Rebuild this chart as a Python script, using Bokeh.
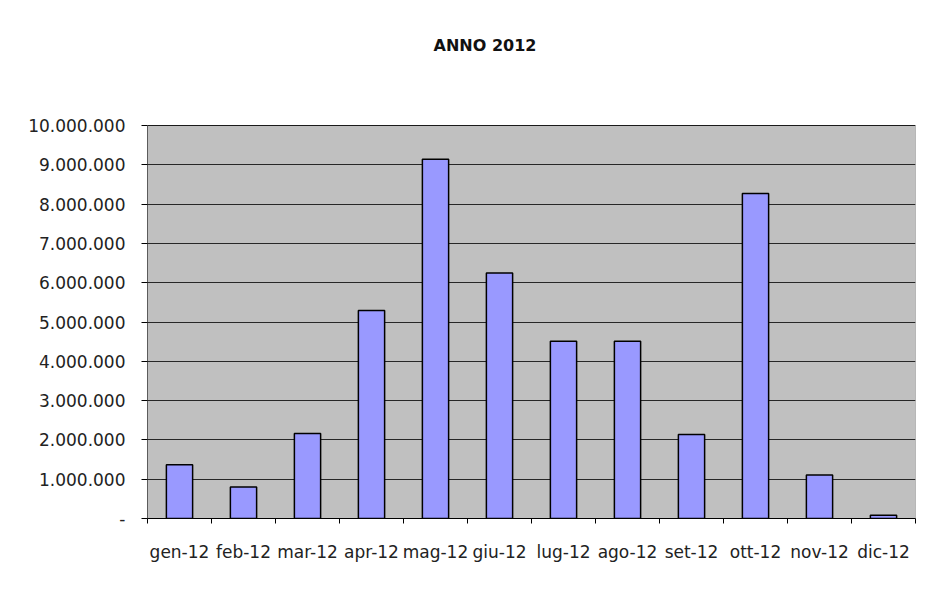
from bokeh.plotting import figure
from bokeh.models import FixedTicker, ColumnDataSource
from bokeh.core.properties import value
from bokeh.embed import file_html
from bokeh.resources import INLINE

# ---- data ----
months = ["gen-12", "feb-12", "mar-12", "apr-12", "mag-12", "giu-12",
          "lug-12", "ago-12", "set-12", "ott-12", "nov-12", "dic-12"]
values = [1370000, 800000, 2160000, 5290000, 9140000, 6250000,
          4510000, 4510000, 2140000, 8270000, 1110000, 85000]
y_ticks = [0, 1000000, 2000000, 3000000, 4000000, 5000000,
           6000000, 7000000, 8000000, 9000000, 10000000]
y_tick_labels = ["-", "1.000.000", "2.000.000", "3.000.000", "4.000.000",
                 "5.000.000", "6.000.000", "7.000.000", "8.000.000",
                 "9.000.000", "10.000.000"]
title_text = "ANNO 2012"

n = len(months)
y_max = y_ticks[-1]
x_centers = [i + 0.5 for i in range(n)]
x_bounds = [i for i in range(n + 1)]
src = ColumnDataSource(dict(x=x_centers, value=values, month=months))

FONT = "DejaVu Sans"

# layout: frame spans from y=25 to y=518 px; the value axis 0..10M occupies 393 px
FRAME_TOP, FRAME_BOTTOM, AREA_TOP = 25, 518, 125
y_top = y_max * (FRAME_BOTTOM - FRAME_TOP) / (FRAME_BOTTOM - AREA_TOP)

p = figure(width=938, height=600, output_backend="svg", toolbar_location=None,
           x_range=(0, n), y_range=(0, y_top),
           min_border_left=147, min_border_right=23,
           min_border_top=FRAME_TOP, min_border_bottom=600 - FRAME_BOTTOM,
           background_fill_color="white", border_fill_color="white")
p.outline_line_color = None

# plot area (grey) with grey border
p.quad(left=[0], right=[n], bottom=[0], top=[y_max],
       fill_color="#C0C0C0", line_color="#808080", line_width=1, level="image")

# left value-axis line only over the plot area
p.segment(x0=[0], y0=[0], x1=[0], y1=[y_max], line_color="black", line_width=1)

p.vbar(x="x", top="value", width=0.41, source=src,
       fill_color="#9999FF", line_color="black", line_width=1.5)

# chart title
title_y = y_max * (FRAME_BOTTOM - 45) / (FRAME_BOTTOM - AREA_TOP)
title_x = n * (484.5 - 147) / 768
p.text(x=[title_x], y=[title_y], text=[title_text], text_font=value(FONT),
       text_font_size="16px", text_font_style="bold", text_color="#111111",
       text_align="center", text_baseline="middle")

# grids
p.xgrid.grid_line_color = None
p.ygrid.ticker = FixedTicker(ticks=y_ticks)
p.ygrid.grid_line_color = "black"
p.ygrid.grid_line_alpha = 0.8
p.ygrid.grid_line_width = 1

# y axis
p.yaxis.ticker = FixedTicker(ticks=y_ticks)
p.yaxis.major_label_overrides = {t: l for t, l in zip(y_ticks, y_tick_labels)}
p.yaxis.axis_line_color = None
p.yaxis.major_tick_line_color = "black"
p.yaxis.major_tick_out = 6
p.yaxis.major_tick_in = 0
p.yaxis.minor_tick_line_color = None
p.yaxis.major_label_standoff = 16
p.yaxis.major_label_text_font = FONT
p.yaxis.major_label_text_font_size = "17px"
p.yaxis.major_label_text_color = "#222222"

# x axis
p.xaxis.ticker = FixedTicker(ticks=x_centers, minor_ticks=x_bounds)
p.xaxis.major_label_overrides = {t: l for t, l in zip(x_centers, months)}
p.xaxis.axis_line_color = "black"
p.xaxis.axis_line_width = 1
p.xaxis.major_tick_line_color = None
p.xaxis.major_tick_out = 0
p.xaxis.major_tick_in = 0
p.xaxis.minor_tick_line_color = "black"
p.xaxis.minor_tick_out = 5
p.xaxis.minor_tick_in = 0
p.xaxis.major_label_standoff = 18
p.xaxis.major_label_text_font = FONT
p.xaxis.major_label_text_font_size = "17px"
p.xaxis.major_label_text_color = "#222222"

open("out.html", "w").write(file_html(p, INLINE))
